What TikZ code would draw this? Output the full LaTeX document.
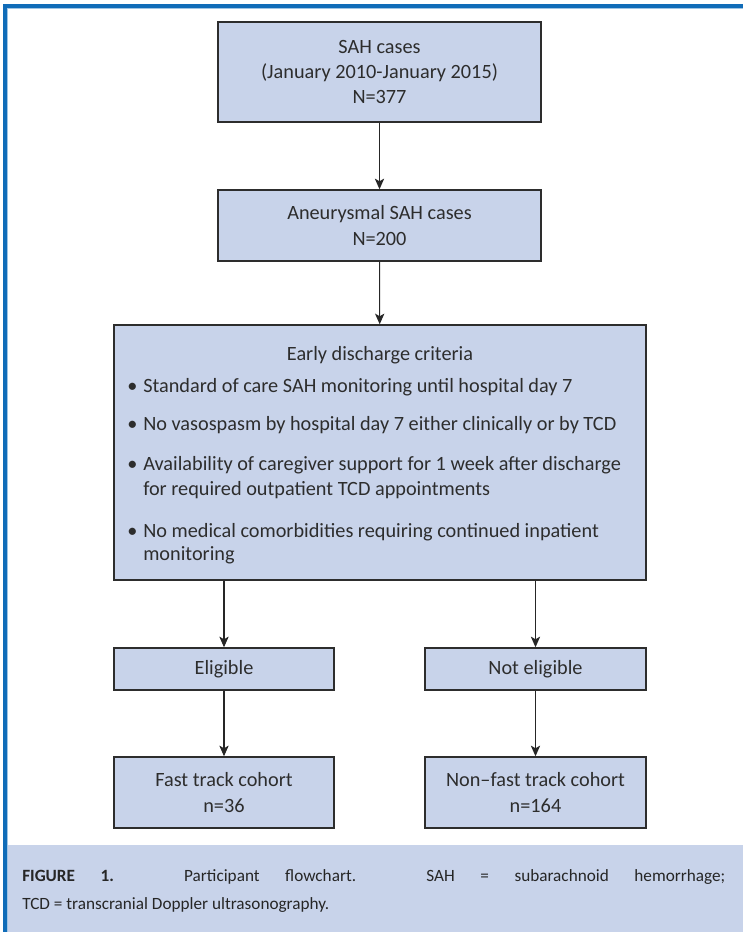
\documentclass[tikz,border=0pt]{standalone}
\usepackage{fontspec}
\setmainfont{Carlito}
\usetikzlibrary{arrows.meta}
\definecolor{boxfill}{RGB}{200,211,234}
\definecolor{framebl}{RGB}{16,108,184}
\definecolor{edgegray}{RGB}{45,45,45}

\begin{document}
\begin{tikzpicture}[x=0.75pt,y=-0.75pt,font=\fontsize{15.2}{19}\selectfont]
	\tikzset{
		box/.style={draw=edgegray,line width=1.1pt,fill=boxfill,inner sep=0pt,align=center,text=edgegray},
		crit/.style={anchor=base west,inner sep=0pt,text=edgegray},
		arr/.style={draw=black!85,line width=0.8pt,-{Stealth[length=8pt,width=7pt,inset=2pt]}}
	}
	\useasboundingbox (0,0) rectangle (743,932);
	% frame and caption band
	\fill[boxfill] (8,845) rectangle (743,932);
	\draw[framebl,line width=3pt] (5,932) -- (5,6) -- (743,6);
	\draw[framebl!40,line width=0.8pt] (7.5,932) -- (7.5,8.5) -- (743,8.5);

	\node[box,minimum width=242.25pt,minimum height=75pt] (sah) at (379.5,72)
		{SAH cases\\(January 2010-January 2015)\\N=377};
	\node[box,minimum width=242.25pt,minimum height=53.25pt] (aneu) at (379.5,225.5)
		{Aneurysmal SAH cases\\N=200};
	\node[box,minimum width=399pt,minimum height=191.25pt] (crit) at (380,452.5) {};
	\node[box,minimum width=165pt,minimum height=31.5pt] (elig) at (224,669) {Eligible};
	\node[box,minimum width=165.75pt,minimum height=31.5pt] (nelig) at (535.5,669) {Not eligible};
	\node[box,minimum width=165pt,minimum height=53.25pt] (fast) at (224,792.5)
		{Fast track cohort\\n=36};
	\node[box,minimum width=165.75pt,minimum height=53.25pt] (nfast) at (535.5,792.5)
		{Non--fast track cohort\\n=164};

	% criteria text
	\node[crit,anchor=base] (crithead) at (380,360) {Early discharge criteria};
	\foreach \yy in {392,430,470,537}
		\node[crit] (bul\yy) at (127,\yy) {•};
	\node[crit] (c1) at (143,392) {Standard of care SAH monitoring until hospital day 7};
	\node[crit] (c2) at (143,430) {No vasospasm by hospital day 7 either clinically or by TCD};
	\node[crit] (c3a) at (143,470) {Availability of caregiver support for 1 week after discharge};
	\node[crit] (c3b) at (143,495) {for required outpatient TCD appointments};
	\node[crit] (c4a) at (143,537) {No medical comorbidities requiring continued inpatient};
	\node[crit] (c4b) at (143,560) {monitoring};

	\draw[arr] (sah) -- (aneu);
	\draw[arr] (aneu) -- (crit);
	\draw[arr] (crit.south -| elig) -- (elig);
	\draw[arr] (crit.south -| nelig) -- (nelig);
	\draw[arr] (elig) -- (fast);
	\draw[arr] (nelig) -- (nfast);

	\node[anchor=north west,inner sep=0pt,text width=527.25pt,align=justify,text=black!85,
		font=\fontsize{12.9}{21.5}\selectfont] (caption) at (22,869)
		{\textbf{FIGURE 1.} Participant flowchart. SAH = subarachnoid hemorrhage;\linebreak
		TCD = transcranial Doppler ultrasonography.};
\end{tikzpicture}
\end{document}
